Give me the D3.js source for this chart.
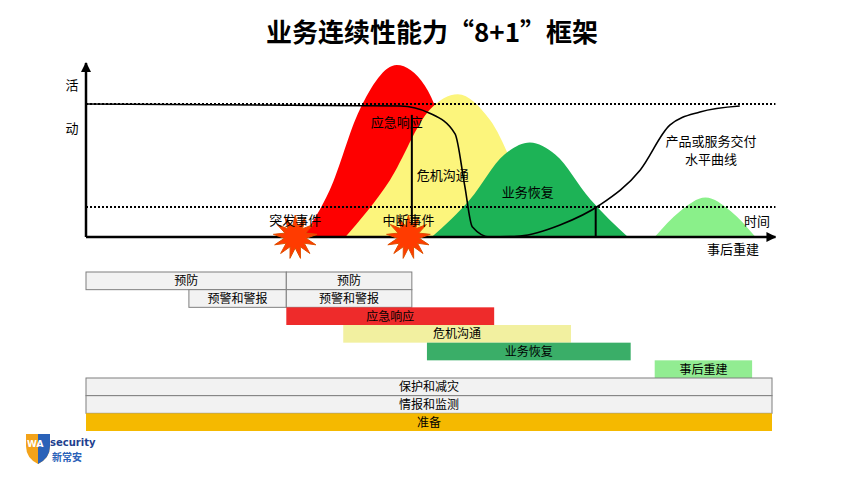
<!DOCTYPE html>
<html><head><meta charset="utf-8">
<script src="https://cdn.jsdelivr.net/npm/d3@7"></script>
<style>body{margin:0;background:#fff;font-family:"Noto Sans CJK SC",sans-serif;}</style>
</head><body><svg id="c" width="864" height="487"></svg>
<script>
// activity curves, [time, activity] (time 0..100, activity 0..100)
const redCurve = [[31.6,0],[35.5,27],[39.9,74],[45.3,100],[49.4,88],[53.1,51],[56.7,0]];
const yellowCurve = [[37.8,0],[44.3,33],[50.1,74],[54.2,83],[58.9,68],[64.7,22],[69.1,0]];
const greenCurve = [[50.4,0],[56,22],[61,48],[64.7,55],[68.4,48],[73.5,22],[79,0]];
const lightCurve = [[82.9,0],[86.6,15],[90.3,23],[94,15],[97.6,0]];
const deliveryCurve = [[0,77.3],[45.8,76.2],[50.1,72],[53.8,60],[55.2,30],[56.3,6],[58.9,0],[63.3,0.6],[69.1,7],[74.9,18.6],[80.8,39],[85.1,65],[89.5,72.7],[95.3,76.2]];
const levels = [77.3, 17.5];
const events = [{name:"突发事件", t:30.5}, {name:"中断事件", t:47}];
const dropLines = [[47.5, 71], [74.3, 17.5]];
const phaseLabels = [["应急响应",45.3,64],["危机沟通",52,33],["业务恢复",64.4,23.5]];

// gantt rows: [label, start, end, style]
const gantt = [
  [["预防",0,29.2,"g"],["预防",29.2,47.5,"g"]],
  [["预警和警报",15,29.2,"g"],["预警和警报",29.2,47.5,"g"]],
  [["应急响应",29.2,59.5,"red"]],
  [["危机沟通",37.5,70.7,"yellow"]],
  [["业务恢复",49.7,79.4,"green"]],
  [["事后重建",82.9,97.1,"light"]],
  [["保护和减灾",0,100,"g"]],
  [["情报和监测",0,100,"g"]],
  [["准备",0,100,"orange"]]
];

const svg = d3.select("#c");
const x = d3.scaleLinear().domain([0,100]).range([86,772]);
const y = d3.scaleLinear().domain([0,100]).range([237,65]);

svg.append("text").attr("x",432).attr("y",42).attr("text-anchor","middle")
  .attr("font-size",26).attr("font-weight","bold").text("业务连续性能力“8+1”框架");

const area = d3.area().x(d=>x(d[0])).y0(y(0)).y1(d=>y(d[1])).curve(d3.curveMonotoneX);
[[redCurve,"#fe0000"],[yellowCurve,"#fcf57c"],[greenCurve,"#1db356"],[lightCurve,"#8af08a"]]
  .forEach(([c,col]) => svg.append("path").attr("d",area(c)).attr("fill",col));

levels.forEach(v => svg.append("line").attr("x1",x(0)).attr("x2",x(100.5))
  .attr("y1",y(v)).attr("y2",y(v)).attr("stroke","#000").attr("stroke-width",2).attr("stroke-dasharray","2,2"));

svg.append("path").attr("d",d3.line().x(d=>x(d[0])).y(d=>y(d[1])).curve(d3.curveMonotoneX)(deliveryCurve))
  .attr("fill","none").attr("stroke","#000").attr("stroke-width",1.6);

dropLines.forEach(([t,v]) => svg.append("line").attr("x1",x(t)).attr("x2",x(t))
  .attr("y1",y(v)).attr("y2",y(0)).attr("stroke","#000").attr("stroke-width",2));

// axes
svg.append("defs").append("marker").attr("id","ar").attr("viewBox","0 0 10 10").attr("refX",9).attr("refY",5)
  .attr("markerWidth",4).attr("markerHeight",4).attr("orient","auto")
  .append("path").attr("d","M0,0L10,5L0,10z");
svg.append("line").attr("x1",x(0)).attr("x2",x(0)).attr("y1",y(0)).attr("y2",y(100)-2)
  .attr("stroke","#000").attr("stroke-width",2.5).attr("marker-end","url(#ar)");
svg.append("line").attr("x1",x(0)).attr("x2",x(100.5)).attr("y1",y(0)).attr("y2",y(0))
  .attr("stroke","#000").attr("stroke-width",2.5).attr("marker-end","url(#ar)");

// stars
function star(cx, cy, n, r1, r2) {
  const p = d3.range(n*2).map(i => { const a = i*Math.PI/n, r = i%2 ? r2 : r1; return [cx+r*Math.sin(a), cy-r*Math.cos(a)]; });
  return "M" + p.join("L") + "Z";
}
events.forEach(e => {
  svg.append("path").attr("d",star(x(e.t),y(0),13,22,11)).attr("fill","#ff3b00").attr("stroke","#e05000").attr("stroke-width",1);
  svg.append("text").attr("x",x(e.t)).attr("y",225).attr("text-anchor","middle").attr("font-size",13).text(e.name);
});

const txt = (s,px,py,anchor="middle") => svg.append("text").attr("x",px).attr("y",py)
  .attr("text-anchor",anchor).attr("font-size",13).text(s);
phaseLabels.forEach(([s,t,v]) => txt(s,x(t),y(v)));
txt("产品或服务交付",711,146); txt("水平曲线",711,164);
txt("时间",757,226); txt("事后重建",733,254);
txt("活",72,90); txt("动",72,133);

// gantt
const fills = {g:"#f2f2f2", red:"#ee2b2b", yellow:"#f2f0a0", green:"#3aae68", light:"#92ec92", orange:"#f5b900"};
const rowY = d3.scaleBand().domain(d3.range(gantt.length)).range([272,431]);
gantt.forEach((row,i) => row.forEach(([s,a,b,st]) => {
  svg.append("rect").attr("x",x(a)).attr("y",rowY(i)).attr("width",x(b)-x(a)).attr("height",rowY.bandwidth())
    .attr("fill",fills[st]).attr("stroke",st==="g"?"#7f7f7f":"none").attr("stroke-width",1);
  svg.append("text").attr("x",(x(a)+x(b))/2).attr("y",rowY(i)+rowY.bandwidth()/2+4.5)
    .attr("text-anchor","middle").attr("font-size",12).text(s);
}));

// logo
const lg = svg.append("g").attr("transform","translate(24,432)");
lg.append("path").attr("d","M2,2L26,2L26,14Q26,26 14,32Q2,26 2,14Z").attr("fill","#f3a31a");
lg.append("path").attr("d","M14,2L26,2L26,14Q26,26 14,32Z").attr("fill","#2a62b8");
lg.append("text").attr("x",3).attr("y",15).attr("font-size",9).attr("font-weight","bold").attr("fill","#fff")
  .attr("font-family","DejaVu Sans").text("WA");
lg.append("text").attr("x",26).attr("y",14).attr("font-size",10).attr("font-weight","bold").attr("fill","#1f3f8f")
  .attr("font-family","DejaVu Sans").text("security");
lg.append("text").attr("x",28).attr("y",29).attr("font-size",10).attr("font-weight","bold").attr("fill","#2a62b8").text("新常安");
</script></body></html>
